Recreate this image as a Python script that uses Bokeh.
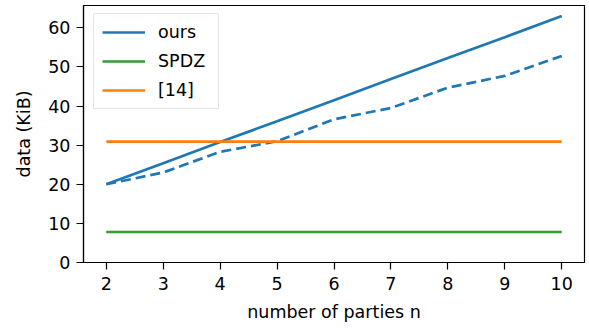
from bokeh.plotting import figure
from bokeh.models import Range1d, FixedTicker, Legend, LegendItem
from bokeh.embed import file_html
from bokeh.resources import INLINE

# number of parties
parties = [2, 3, 4, 5, 6, 7, 8, 9, 10]
# communication in KiB
ours = [20.0, 25.4, 30.8, 36.1, 41.5, 46.9, 52.3, 57.6, 63.0]
ours_dashed = [20.0, 23.0, 28.3, 31.0, 36.6, 39.5, 44.7, 47.7, 52.8]
spdz = [7.8] * len(parties)
ref14 = [30.9] * len(parties)

x_ticks = [2, 3, 4, 5, 6, 7, 8, 9, 10]
y_ticks = [0, 10, 20, 30, 40, 50, 60]

BLUE = "#1f77b4"
GREEN = "#2ca02c"
ORANGE = "#ff7f0e"
FONT = "DejaVu Sans"
FS = "17.5px"

p = figure(width=589, height=329, output_backend="svg", toolbar_location=None,
           x_range=Range1d(1.6, 10.4), y_range=Range1d(0, 65.7))
p.min_border_left = 83
p.min_border_right = 5
p.min_border_top = 5
p.min_border_bottom = 67
p.xgrid.visible = False
p.ygrid.visible = False
p.outline_line_color = "black"
p.outline_line_width = 1.2
p.background_fill_color = "white"
p.border_fill_color = "white"

lw = 2.7
r_ours = p.line(parties, ours, line_color=BLUE, line_width=lw)
p.line(parties, ours_dashed, line_color=BLUE, line_width=lw, line_dash="10 5")
r_spdz = p.line(parties, spdz, line_color=GREEN, line_width=lw)
r_ref = p.line(parties, ref14, line_color=ORANGE, line_width=lw)

for ax, ticks in ((p.xaxis[0], x_ticks), (p.yaxis[0], y_ticks)):
    ax.ticker = FixedTicker(ticks=ticks)
    ax.minor_tick_line_color = None
    ax.major_tick_in = 0
    ax.major_tick_out = 7
    ax.major_tick_line_width = 1.2
    ax.axis_line_width = 1.2
    ax.major_label_text_font = FONT
    ax.major_label_text_font_size = FS
    ax.major_label_text_color = "black"
    ax.axis_label_text_font = FONT
    ax.axis_label_text_font_size = FS
    ax.axis_label_text_font_style = "normal"
    ax.axis_label_text_color = "black"

p.xaxis.axis_label = "number of parties n"
p.yaxis.axis_label = "data (KiB)"
p.xaxis.major_label_standoff = 7
p.yaxis.major_label_standoff = 6
p.xaxis.axis_label_standoff = 9
p.yaxis.axis_label_standoff = 11

legend = Legend(items=[LegendItem(label="ours", renderers=[r_ours]),
                       LegendItem(label="SPDZ", renderers=[r_spdz]),
                       LegendItem(label="[14]", renderers=[r_ref])],
                location=(10, 153))
legend.margin = 0
legend.padding = 8
legend.spacing = 9
legend.label_height = 20
legend.glyph_height = 20
legend.glyph_width = 43
legend.label_standoff = 13
legend.label_width = 52
legend.label_text_font = FONT
legend.label_text_font_size = FS
legend.label_text_color = "black"
legend.border_line_color = "#cccccc"
legend.border_line_width = 1
legend.background_fill_color = "white"
legend.background_fill_alpha = 0.8
p.add_layout(legend, "center")

open("out.html", "w").write(file_html(p, INLINE))
